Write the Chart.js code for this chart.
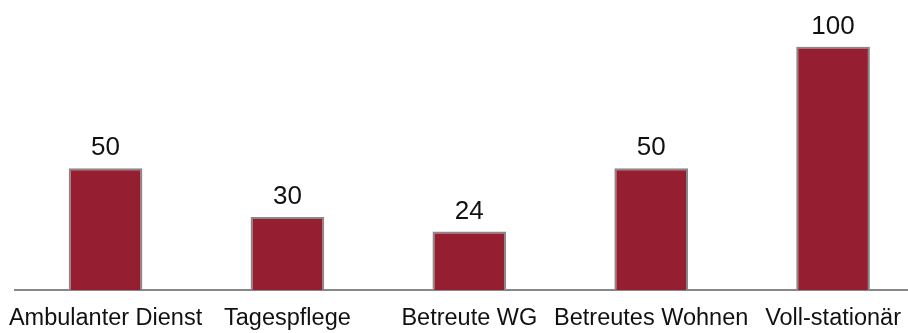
<!DOCTYPE html>
<html>
<head>
<meta charset="utf-8">
<script src="https://cdn.jsdelivr.net/npm/chart.js@4/dist/chart.umd.min.js"></script>
<style>
html,body{margin:0;padding:0;background:#fff;overflow:hidden;}
#wrap{width:940px;height:333px;position:relative;}
</style>
</head>
<body>
<div id="wrap"><canvas id="c"></canvas></div>
<script>
const categories = ["Ambulanter Dienst", "Tagespflege", "Betreute WG", "Betreutes Wohnen", "Voll-stationär"];
const values = [50, 30, 24, 50, 100];

const valueLabels = {
  id: 'valueLabels',
  afterDatasetsDraw(chart) {
    const ctx = chart.ctx;
    const meta = chart.getDatasetMeta(0);
    ctx.save();
    ctx.font = '26px "Liberation Sans", Arial, sans-serif';
    ctx.fillStyle = '#111';
    ctx.textAlign = 'center';
    ctx.textBaseline = 'alphabetic';
    meta.data.forEach((bar, i) => {
      ctx.fillText(String(values[i]), bar.x, bar.y - 13);
    });
    ctx.restore();
  }
};

new Chart(document.getElementById('c'), {
  type: 'bar',
  data: {
    labels: categories,
    datasets: [{
      data: values,
      backgroundColor: '#951f30',
      borderColor: '#888888',
      borderWidth: 2,
      borderSkipped: 'start',
      categoryPercentage: 1,
      barPercentage: 0.405
    }]
  },
  options: {
    responsive: true,
    maintainAspectRatio: false,
    animation: false,
    layout: { padding: { left: 14.6, right: 16, top: 46.5, bottom: 0 } },
    plugins: { legend: { display: false }, tooltip: { enabled: false } },
    scales: {
      y: { display: false, min: 0, max: 100 },
      x: {
        grid: { display: false, drawTicks: false },
        border: { display: true, color: '#888888', width: 2 },
        ticks: {
          color: '#111',
          font: { family: '"Liberation Sans", Arial, sans-serif', size: 23.5 },
          padding: 14,
          maxRotation: 0,
          autoSkip: false
        },
        afterFit(scale) {
          scale.height = 43;
          scale.paddingLeft = 0;
          scale.paddingRight = 0;
        }
      }
    }
  },
  plugins: [valueLabels]
});
</script>
</body>
</html>
